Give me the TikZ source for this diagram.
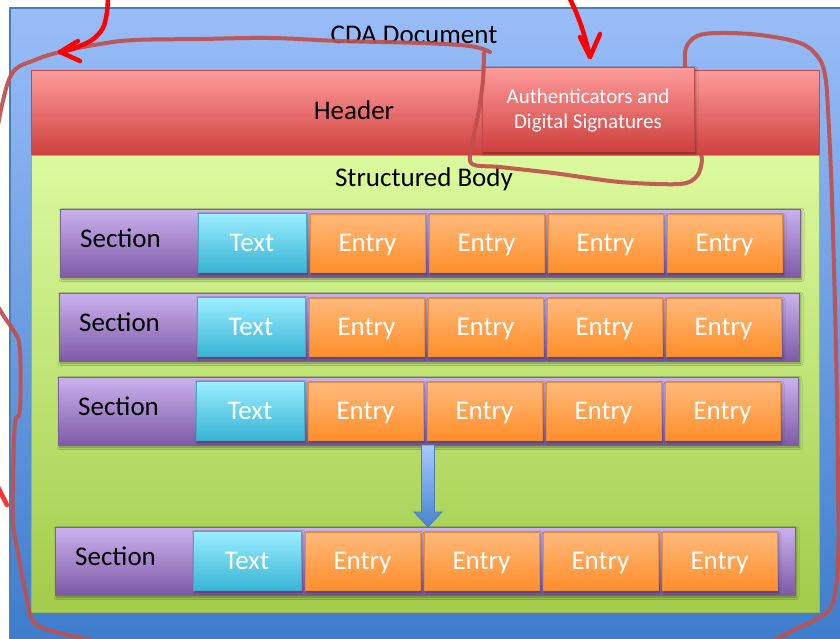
\documentclass[tikz,border=0pt]{standalone}
\usepackage{fontspec}
\setmainfont{Carlito}
\usetikzlibrary{calc,shadows.blur}
\definecolor{blueT}{RGB}{153,189,248}
\definecolor{blueBot}{RGB}{60,124,203}
\definecolor{blueB}{RGB}{74,126,187}
\definecolor{redT}{RGB}{255,156,156}
\definecolor{redBot}{RGB}{206,64,61}
\definecolor{redB}{RGB}{190,75,72}
\definecolor{grnT}{RGB}{219,250,158}
\definecolor{grnBot}{RGB}{162,203,74}
\definecolor{grnB}{RGB}{150,185,85}
\definecolor{secT}{RGB}{202,178,238}
\definecolor{secBot}{RGB}{126,90,166}
\definecolor{secB}{RGB}{120,96,160}
\definecolor{txtT}{RGB}{156,239,255}
\definecolor{txtBot}{RGB}{56,180,213}
\definecolor{txtB}{RGB}{70,170,197}
\definecolor{entT}{RGB}{255,186,124}
\definecolor{entBot}{RGB}{255,142,42}
\definecolor{entB}{RGB}{235,140,55}
\definecolor{arrT}{RGB}{166,200,255}
\definecolor{arrBot}{RGB}{72,132,208}
\definecolor{annR}{RGB}{192,80,77}
\begin{document}
\begin{tikzpicture}[x=1pt,y=-1pt,
  big/.style={font=\fontsize{27}{32}\selectfont},
  boxbase/.style={draw, line width=0.9pt, inner sep=0pt, outer sep=0pt},
  softshadow/.style={blur shadow={shadow xshift=1.5pt, shadow yshift=-2pt, shadow blur radius=2.5pt, shadow opacity=40}},
  secbox/.style={boxbase, draw=secB, top color=secT, bottom color=secBot, minimum width=740pt, minimum height=68pt, softshadow},
  seclabel/.style={big, anchor=base west, inner sep=0pt},
  txtbox/.style={boxbase, draw=txtB, top color=txtT, bottom color=txtBot, minimum width=108pt, minimum height=59pt, big, text=white, text height=17.5pt, text depth=0pt, softshadow},
  entbox/.style={boxbase, draw=entB, top color=entT, bottom color=entBot, minimum width=115pt, minimum height=58pt, big, text=white, text height=17.5pt, text depth=0pt, softshadow},
  annot/.style={draw=annR, line width=4pt, opacity=0.92, line cap=round, line join=round},
  redarrow/.style={draw=red, line width=4.5pt, line cap=round, line join=round}]
\useasboundingbox (0,0) rectangle (840,638);
\fill[white] (0,0) rectangle (840,638);
\begin{scope}
\clip (0,0) rectangle (840,638);
% outer document
\node[boxbase, draw=blueB, line width=1.5pt, top color=blueT, bottom color=blueBot, minimum width=840pt, minimum height=642pt] (doc) at (430,329) {};
\node[big, anchor=base, inner sep=0pt] (doclbl) at (414,43) {CDA Document};
% header
\node[boxbase, draw=redB, top color=redT, bottom color=redBot, minimum width=788pt, minimum height=85pt] (header) at (425,112.5) {};
\node[big, anchor=base, inner sep=0pt] (headerlbl) at (354,119) {Header};
% body
\node[boxbase, draw=grnB, top color=grnT, bottom color=grnBot, minimum width=788pt, minimum height=457pt] (body) at (425,383.5) {};
\node[big, anchor=base, inner sep=0pt] (bodylbl) at (424,186) {Structured Body};
% sections
\foreach \r/\xo/\yo in {1/60/209, 2/59/293, 3/58/377, 4/55/527} {
  \node[secbox] (sec\r) at ({\xo+370},{\yo+34}) {};
  \node[seclabel] (seclbl\r) at ({\xo+20},{\yo+38}) {Section};
  \node[txtbox] (txt\r) at ({\xo+192},{\yo+33.5}) {Text};
  \foreach \k in {1,...,4} {
    \node[entbox] (e\r\k) at ({\xo+307.5+(\k-1)*119},{\yo+34}) {Entry};
  }
}
% repetition arrow
\path[draw=blueB, line width=0.8pt, top color=arrT, bottom color=arrBot]
  ($(sec3.south)+(-6.5,0)$) -- ($(sec3.south|-sec4.north)+(-6.5,-15)$) -- ++(-7.5,0)
  -- (sec3.south|-sec4.north) -- ($(sec3.south|-sec4.north)+(14,-15)$) -- ++(-7.5,0)
  -- ($(sec3.south)+(6.5,0)$) -- cycle;
% authenticators
\node[boxbase, draw=redB, top color=redT, bottom color=redBot, minimum width=212pt, minimum height=84pt, softshadow] (auth) at (588,109) {};
\node[font=\fontsize{21}{25}\selectfont, text=white, anchor=base, inner sep=0pt] (authl1) at (588,103) {Authenticators and};
\node[font=\fontsize{21}{25}\selectfont, text=white, anchor=base, inner sep=0pt] (authl2) at (588,128) {Digital Signatures};
% hand-drawn annotations
\draw[annot] plot[smooth, tension=0.6] coordinates {(-6,150) (2,105) (13,72) (35,60) (60,52) (100,44) (135,40) (200,39) (270,38) (340,41) (420,43) (470,46) (490,52)};
\draw[annot] plot[smooth, tension=0.5] coordinates {(484,53) (483,80) (479,110) (474,135) (471,163) (500,167) (553,173) (620,182) (680,184) (697,176) (702,160) (699,150)};
\draw[annot] plot[smooth, tension=0.6] coordinates {(685,66) (686,48) (697,36) (720,33) (760,35) (800,43) (818,57) (825,75) (828,110) (832,200) (836,350) (838,480) (838,560) (832,605) (815,620) (800,627) (780,637) (765,646)};
\draw[annot] plot[smooth, tension=0.6] coordinates {(-6,300) (5,318) (15,333) (20,350) (20,410) (15,423) (13,480) (13,523) (18,553) (23,580) (27,600) (32,620) (43,628) (60,633) (90,640)};
\draw[redarrow, opacity=0.8] (-4,483) -- (7,505);
\draw[redarrow] plot[smooth] coordinates {(108,-3) (107,12) (103,28) (92,40) (75,48) (60,52)};
\draw[redarrow] (78,41) -- (60,52) -- (80,61);
\draw[redarrow] plot[smooth] coordinates {(569,-3) (576,12) (582,28) (587,45) (590,57)};
\draw[redarrow] (580,37) -- (590,57) -- (600,34);
\end{scope}
\end{tikzpicture}
\end{document}
